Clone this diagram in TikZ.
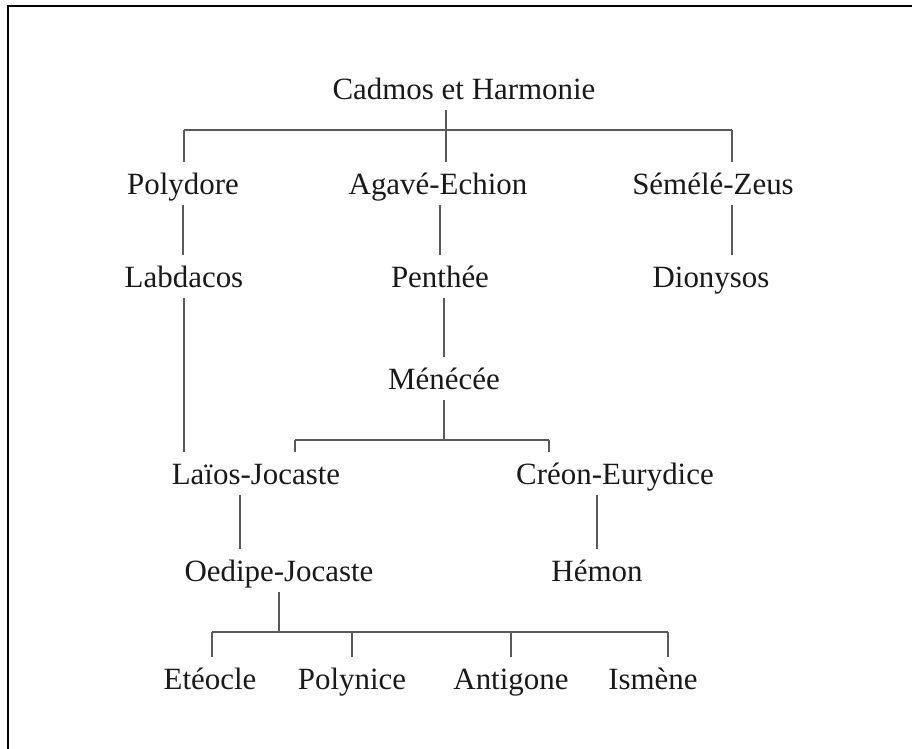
\documentclass[tikz,border=0pt]{standalone}
\usepackage{fontspec}
\setmainfont{Liberation Serif}
\definecolor{trgray}{RGB}{90,90,90}
\definecolor{trtext}{RGB}{25,25,25}
\usetikzlibrary{positioning,calc}

\begin{document}
\begin{tikzpicture}[
  person/.style={anchor=base, inner sep=0pt, text height=0.66cm, text depth=0.2cm, text=trtext, font=\fontsize{17.6pt}{20pt}\selectfont},
  link/.style={draw=trgray, line width=0.6pt}
]
  \useasboundingbox (0,0) rectangle (18.24,14.98);
  % Frame
  \draw[line width=1.2pt] (0.16,0) -- (0.16,14.86) -- (18.24,14.86);

  % Generations
  \node[person] (cadmos) at (9.28,12.98) {Cadmos et Harmonie};

  \node[person] (polydore) at (3.66,11.08) {Polydore};
  \node[person] (agave) at (8.76,11.08) {Agavé-Echion};
  \node[person] (semele) at (14.26,11.08) {Sémélé-Zeus};

  \node[person] (labdacos) at (3.68,9.22) {Labdacos};
  \node[person] (penthee) at (8.80,9.22) {Penthée};
  \node[person] (dionysos) at (14.22,9.22) {Dionysos};

  \node[person] (menecee) at (8.88,7.18) {Ménécée};

  \node[person] (laios) at (5.12,5.28) {Laïos-Jocaste};
  \node[person] (creon) at (12.30,5.28) {Créon-Eurydice};

  \node[person] (oedipe) at (5.58,3.34) {Oedipe-Jocaste};
  \node[person] (hemon) at (11.94,3.34) {Hémon};

  \node[person] (eteocle) at (4.20,1.18) {Etéocle};
  \node[person] (polynice) at (7.04,1.18) {Polynice};
  \node[person] (antigone) at (10.22,1.18) {Antigone};
  \node[person] (ismene) at (13.06,1.18) {Ismène};

  % Bar ends
  \coordinate (top-l) at (3.68,12.38);
  \coordinate (top-r) at (14.64,12.38);
  \coordinate (mid-l) at (5.90,6.18);
  \coordinate (mid-r) at (10.98,6.18);
  \coordinate (bot-l) at (4.24,2.34);
  \coordinate (bot-r) at (13.36,2.34);

  % Cadmos et Harmonie
  \draw[link] ([xshift=-0.36cm]cadmos.south) -- ([xshift=-0.36cm]cadmos.south |- agave.north);
  \draw[link] (top-l) -- (top-r);
  \draw[link] (top-l) -- (top-l |- polydore.north);
  \draw[link] (top-r) -- (top-r |- semele.north);

  \draw[link] (polydore.south) -- (polydore.south |- labdacos.north);
  \draw[link] (penthee.north |- agave.south) -- (penthee.north);
  \draw[link] (top-r |- semele.south) -- (top-r |- dionysos.north);

  \draw[link] (labdacos.south) -- (labdacos.south |- laios.north);
  \draw[link] (menecee.north |- penthee.south) -- (menecee.north);

  % Ménécée
  \draw[link] (menecee.south) -- (menecee.south |- mid-l);
  \draw[link] (mid-l) -- (mid-r);
  \draw[link] (mid-l) -- (mid-l |- laios.north);
  \draw[link] (mid-r) -- (mid-r |- creon.north);

  \draw[link] ([xshift=-0.32cm]laios.south) -- ([xshift=-0.32cm]laios.south |- oedipe.north);
  \draw[link] (hemon.north |- creon.south) -- (hemon.north);

  % Oedipe-Jocaste
  \draw[link] (oedipe.south) -- (oedipe.south |- bot-l);
  \draw[link] (bot-l) -- (bot-r);
  \draw[link] (bot-l) -- (bot-l |- eteocle.north);
  \draw[link] (polynice.north |- bot-l) -- (polynice.north);
  \draw[link] (antigone.north |- bot-l) -- (antigone.north);
  \draw[link] (bot-r) -- (bot-r |- ismene.north);
\end{tikzpicture}
\end{document}
